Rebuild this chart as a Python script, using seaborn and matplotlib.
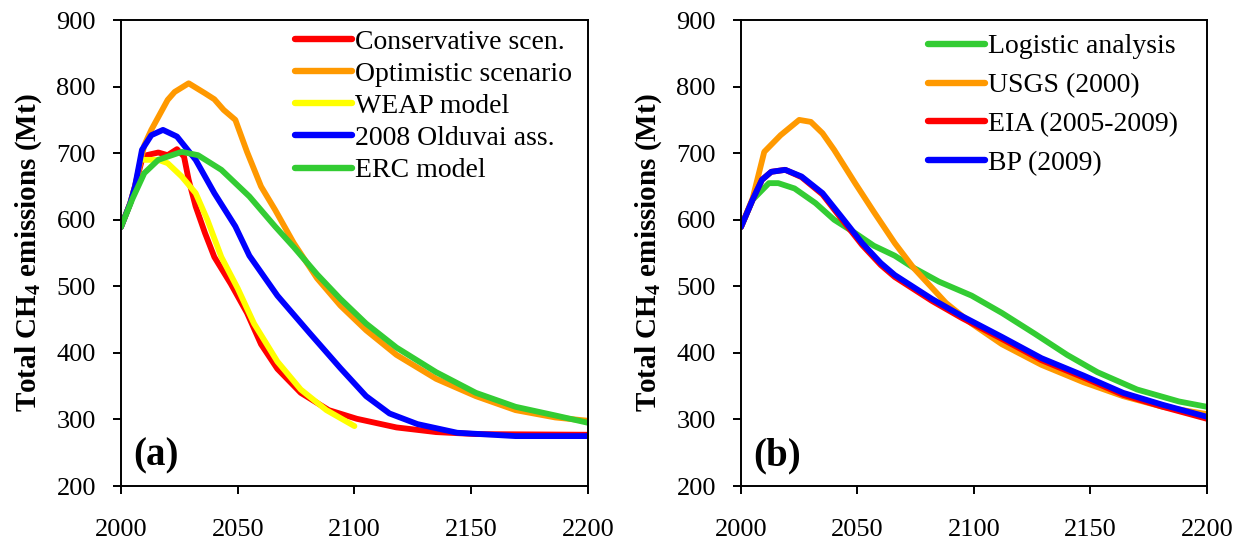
import matplotlib
matplotlib.use("Agg")
import matplotlib.pyplot as plt
import seaborn as sns
import pandas as pd

# ---------------- data ----------------
# Panel (a)
cons_year = [2000, 2004, 2006, 2009, 2011, 2016, 2020, 2024, 2027, 2029, 2032, 2036, 2040, 2047, 2054, 2060, 2067, 2077, 2089, 2101, 2118, 2135, 2152, 2200]
cons_val  = [589, 625, 650, 690, 697, 701, 697, 706, 695, 660, 620, 580, 544, 504, 460, 413, 376, 340, 314, 301, 288, 281, 278, 277]

opt_year = [2000, 2004, 2006, 2010, 2013, 2020, 2023, 2029, 2036, 2040, 2044, 2049, 2054, 2060, 2066, 2074, 2084, 2094, 2105, 2118, 2135, 2152, 2169, 2186, 2200]
opt_val  = [589, 625, 650, 712, 735, 780, 792, 805, 790, 781, 765, 750, 702, 650, 615, 565, 512, 471, 434, 397, 361, 335, 314, 303, 298]

weap_year = [2010, 2016, 2020, 2026, 2032, 2037, 2043, 2050, 2057, 2067, 2077, 2088, 2100]
weap_val  = [690, 690, 685, 665, 640, 600, 544, 497, 444, 387, 345, 314, 290]

old_year = [2000, 2004, 2006, 2009, 2013, 2018, 2024, 2032, 2040, 2049, 2055, 2067, 2081, 2094, 2105, 2115, 2127, 2144, 2169, 2200]
old_val  = [589, 625, 650, 705, 727, 735, 725, 690, 640, 590, 546, 486, 429, 377, 335, 309, 293, 280, 275, 275]

erc_year = [2000, 2005, 2010, 2016, 2026, 2033, 2043, 2055, 2066, 2074, 2084, 2094, 2105, 2118, 2135, 2152, 2169, 2186, 2200]
erc_val  = [589, 632, 670, 690, 702, 697, 675, 635, 590, 559, 518, 481, 444, 408, 371, 340, 319, 306, 295]

# Panel (b)
log_year = [2000, 2005, 2012, 2016, 2023, 2032, 2040, 2049, 2057, 2066, 2074, 2085, 2099, 2112, 2126, 2140, 2153, 2170, 2188, 2200]
log_val  = [589, 630, 655, 655, 647, 625, 600, 580, 561, 546, 528, 507, 486, 460, 429, 397, 371, 345, 327, 319]

usgs_year = [2000, 2005, 2010, 2017, 2025, 2030, 2035, 2040, 2049, 2057, 2066, 2074, 2088, 2099, 2112, 2129, 2147, 2164, 2181, 2200]
usgs_val  = [589, 632, 702, 727, 750, 747, 730, 705, 655, 612, 565, 528, 475, 444, 413, 382, 356, 335, 319, 308]

eia_year = [2000, 2005, 2009, 2013, 2019, 2026, 2035, 2043, 2052, 2060, 2066, 2082, 2095, 2112, 2129, 2147, 2164, 2181, 2200]
eia_val  = [589, 630, 660, 672, 675, 664, 638, 602, 562, 532, 514, 478, 452, 421, 389, 363, 337, 319, 301]

bp_year = [2000, 2005, 2009, 2013, 2019, 2026, 2035, 2043, 2052, 2060, 2066, 2082, 2095, 2112, 2129, 2147, 2164, 2181, 2200]
bp_val  = [589, 630, 660, 672, 675, 665, 640, 605, 565, 535, 517, 481, 455, 424, 392, 366, 340, 322, 304]

labels_a = ["Conservative scen.", "Optimistic scenario", "WEAP model", "2008 Olduvai ass.", "ERC model"]
labels_b = ["Logistic analysis", "USGS (2000)", "EIA (2005-2009)", "BP (2009)"]
x_ticks = [2000, 2050, 2100, 2150, 2200]
y_ticks = [200, 300, 400, 500, 600, 700, 800, 900]
ylabel = r"Total CH$_\mathbf{4}$ emissions (Mt)"

# ---------------- frames ----------------
def frame(pairs, labels):
    rows = []
    for (xs, ys), lab in zip(pairs, labels):
        for x, y in zip(xs, ys):
            rows.append({"year": x, "value": y, "series": lab})
    return pd.DataFrame(rows)

df_a = frame([(cons_year, cons_val), (opt_year, opt_val), (weap_year, weap_val),
              (old_year, old_val), (erc_year, erc_val)], labels_a)
df_b = frame([(log_year, log_val), (usgs_year, usgs_val), (eia_year, eia_val),
              (bp_year, bp_val)], labels_b)

RED, ORANGE, YELLOW, BLUE, GREEN = "#FF0000", "#FF9900", "#FFFF00", "#0000FF", "#33CC33"
pal_a = dict(zip(labels_a, [RED, ORANGE, YELLOW, BLUE, GREEN]))
pal_b = dict(zip(labels_b, [GREEN, ORANGE, RED, BLUE]))

# ---------------- style ----------------
sns.set_theme(style="ticks", rc={"text.color": "black", "axes.labelcolor": "black",
                                 "xtick.color": "black", "ytick.color": "black",
                                 "axes.edgecolor": "black"})
plt.rcParams["font.family"] = ["Liberation Serif", "DejaVu Serif"]
plt.rcParams["mathtext.fontset"] = "custom"
plt.rcParams["mathtext.rm"] = "Liberation Serif"
plt.rcParams["mathtext.bf"] = "Liberation Serif:bold"
plt.rcParams["lines.solid_joinstyle"] = "round"
plt.rcParams["lines.solid_capstyle"] = "round"

fig = plt.figure(figsize=(12.43, 5.42), dpi=100)
ax_a = fig.add_axes([0.0973, 0.1033, 0.3757, 0.8597])
ax_b = fig.add_axes([0.5961, 0.1033, 0.3749, 0.8597])

LW = 4.2

def style_ax(ax, df, pal, labels, tag, leg_spacing, leg_anchor):
    sns.lineplot(data=df, x="year", y="value", hue="series", hue_order=labels,
                 palette=pal, linewidth=LW, ax=ax, sort=False, estimator=None,
                 legend=True)
    for ln in ax.get_lines():
        ln.set_solid_joinstyle("round")
        ln.set_solid_capstyle("round")
    ax.set_xlim(2000, 2200)
    ax.set_ylim(200, 900)
    ax.set_xticks(x_ticks)
    ax.set_yticks(y_ticks)
    ax.set_xlabel("")
    ax.set_ylabel(ylabel, fontsize=21, fontweight="bold", labelpad=9)
    for s in ax.spines.values():
        s.set_visible(True)
        s.set_color("black")
        s.set_linewidth(1.4)
    ax.tick_params(axis="both", direction="out", length=6, width=1.4,
                   labelsize=19, colors="black")
    ax.tick_params(axis="x", pad=18)
    ax.tick_params(axis="y", pad=12)
    ax.text(0.026, 0.064, tag, transform=ax.transAxes, fontsize=28,
            fontweight="bold", ha="left", va="center")
    leg = ax.legend(loc="upper left", bbox_to_anchor=leg_anchor, frameon=False,
                    fontsize=20, handlelength=2.05, handletextpad=0.1,
                    labelspacing=leg_spacing, borderaxespad=0.0, borderpad=0.0)
    for h in leg.get_lines():
        h.set_linewidth(LW + 0.4)
        h.set_solid_capstyle("round")
    return leg

style_ax(ax_a, df_a, pal_a, labels_a, "(a)", 0.24, (0.3726, 0.980))
style_ax(ax_b, df_b, pal_b, labels_b, "(b)", 0.48, (0.401, 0.970))

fig.savefig("out.png", dpi=100)
